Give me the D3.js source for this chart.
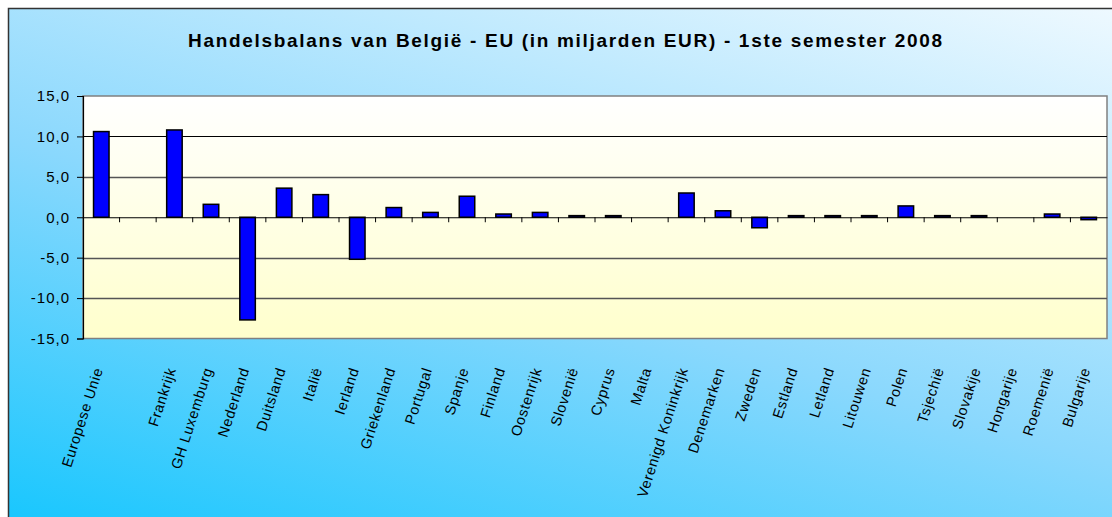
<!DOCTYPE html>
<html>
<head>
<meta charset="utf-8">
<script src="https://cdn.jsdelivr.net/npm/d3@7"></script>
<style>
  html, body { margin: 0; padding: 0; background: #fff; }
  svg { display: block; font-family: "Liberation Sans", Arial, sans-serif; }
</style>
</head>
<body>
<svg id="chart" width="1112" height="517"></svg>
<script>
const title = "Handelsbalans van België - EU (in miljarden EUR) - 1ste semester 2008";
const categories = ["Europese Unie", "", "Frankrijk", "GH Luxemburg", "Nederland", "Duitsland", "Italië", "Ierland",
  "Griekenland", "Portugal", "Spanje", "Finland", "Oostenrijk", "Slovenië", "Cyprus", "Malta",
  "Verenigd Koninkrijk", "Denemarken", "Zweden", "Estland", "Letland", "Litouwen", "Polen",
  "Tsjechië", "Slovakije", "Hongarije", "Roemenië", "Bulgarije"];
const values = [10.6, null, 10.8, 1.6, -12.7, 3.6, 2.8, -5.2,
  1.2, 0.6, 2.6, 0.4, 0.6, 0.2, 0.2, 0.0,
  3.0, 0.8, -1.3, 0.2, 0.2, 0.2, 1.4,
  0.2, 0.2, 0.0, 0.4, -0.3];
const yTicks = [-15, -10, -5, 0, 5, 10, 15];
const gridValues = [-10, -5, 5, 10];

const svg = d3.select("#chart");
const W = 1112, H = 517;
const plot = { left: 83, right: 1107, top: 96, bottom: 338.5 };

const defs = svg.append("defs");
const bg = defs.append("linearGradient").attr("id", "bg")
  .attr("x1", "0%").attr("y1", "100%").attr("x2", "75%").attr("y2", "-20%");
bg.append("stop").attr("offset", "0%").attr("stop-color", "#14c6fe");
bg.append("stop").attr("offset", "45%").attr("stop-color", "#8ad8fd");
bg.append("stop").attr("offset", "100%").attr("stop-color", "#f4fbff");
const pg = defs.append("linearGradient").attr("id", "pg")
  .attr("x1", "0").attr("y1", "0").attr("x2", "0").attr("y2", "1");
pg.append("stop").attr("offset", "0%").attr("stop-color", "#ffffff");
pg.append("stop").attr("offset", "100%").attr("stop-color", "#ffffcc");

// outer chart area
svg.append("rect").attr("x", 8.5).attr("y", 8.5).attr("width", W + 10).attr("height", H + 10)
  .attr("fill", "url(#bg)").attr("stroke", "#333").attr("stroke-width", 1.5);

// title
svg.append("text").attr("x", 565).attr("y", 47)
  .attr("text-anchor", "middle").attr("font-size", 19).attr("font-weight", "bold")
  .attr("fill", "#000")
  .attr("textLength", 754).attr("lengthAdjust", "spacing")
  .text(title);

const x = d3.scaleBand().domain(d3.range(categories.length))
  .range([plot.left, plot.right]).paddingInner(0).paddingOuter(0);
const y = d3.scaleLinear().domain([-15, 15]).range([plot.bottom, plot.top]);

// plot area
svg.append("rect").attr("x", plot.left).attr("y", plot.top)
  .attr("width", plot.right - plot.left).attr("height", plot.bottom - plot.top)
  .attr("fill", "url(#pg)").attr("stroke", "#808080").attr("stroke-width", 1.5);

// gridlines
svg.append("g").selectAll("line").data(gridValues).join("line")
  .attr("x1", plot.left).attr("x2", plot.right)
  .attr("y1", d => Math.round(y(d)) + 0.5).attr("y2", d => Math.round(y(d)) + 0.5)
  .attr("stroke", d => d === 10 ? "#000" : "#555").attr("stroke-width", d => d === 10 ? 1 : 1.3);

// bars
const bw = 15.5;
svg.append("g").selectAll("rect").data(values.map((v, i) => ({ v, i })).filter(d => d.v !== null && d.v !== 0))
  .join("rect")
  .attr("x", d => x(d.i) + x.bandwidth() / 2 - bw / 2)
  .attr("width", bw)
  .attr("y", d => Math.min(y(d.v), y(0)))
  .attr("height", d => Math.abs(y(d.v) - y(0)))
  .attr("fill", "#0000ff").attr("stroke", "#000").attr("stroke-width", 1.5);

// y axis
const loc = d3.formatLocale({ decimal: ",", thousands: ".", grouping: [3], currency: ["", "€"], minus: "-" });
const fmt = loc.format(".1f");
const yAxis = d3.axisLeft(y).tickValues(yTicks).tickSize(6).tickPadding(7).tickFormat(fmt);
const gy = svg.append("g").attr("transform", `translate(${plot.left},0)`).call(yAxis);
gy.select(".domain").attr("stroke", "#000").attr("stroke-width", 1.2);
gy.selectAll(".tick line").attr("stroke", "#000");
gy.selectAll(".tick text").attr("font-size", 15).attr("fill", "#000")
  .attr("letter-spacing", "1px").attr("font-family", "Liberation Sans, Arial, sans-serif");

// x axis at zero
const xAxis = d3.axisBottom(x).tickSize(0).tickFormat("");
const gx = svg.append("g").attr("transform", `translate(0,${y(0)})`).call(xAxis);
gx.select(".domain").attr("stroke", "#000").attr("stroke-width", 1.2);
svg.append("g").selectAll("line").data(d3.range(1, categories.length)).join("line")
  .attr("x1", d => x(d)).attr("x2", d => x(d))
  .attr("y1", y(0)).attr("y2", y(0) + 5)
  .attr("stroke", "#000").attr("stroke-width", 1);

// category labels
svg.append("g").selectAll("text").data(categories.map((c, i) => ({ c, i })).filter(d => d.c))
  .join("text")
  .attr("transform", d => `translate(${x(d.i) + x.bandwidth() / 2 - 3},368) rotate(-72)`)
  .attr("text-anchor", "end").attr("dy", "0.35em")
  .attr("font-size", 14.5).attr("letter-spacing", "0.6px").attr("fill", "#000")
  .text(d => d.c);
</script>
</body>
</html>
